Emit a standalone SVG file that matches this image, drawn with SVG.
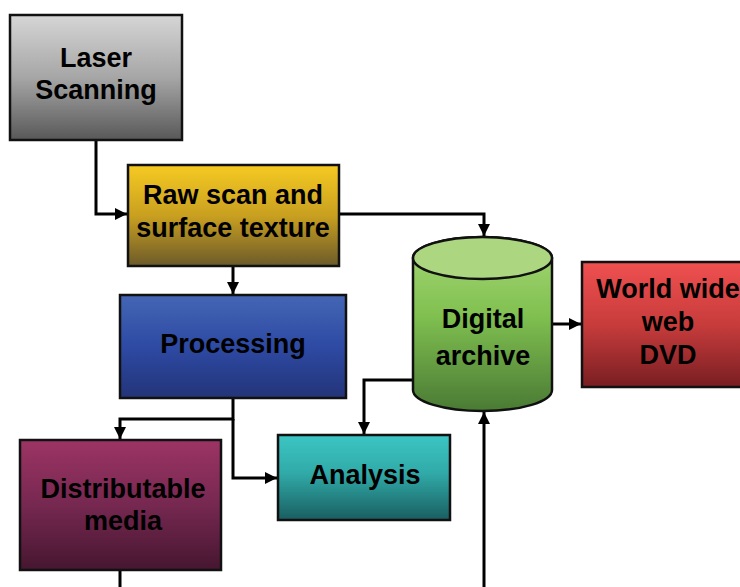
<svg xmlns="http://www.w3.org/2000/svg" width="740" height="587" viewBox="0 0 740 587">
  <defs>
    <linearGradient id="gGray" x1="0" y1="0" x2="0" y2="1">
      <stop offset="0" stop-color="#d6d6d6"/>
      <stop offset="0.5" stop-color="#a6a6a6"/>
      <stop offset="1" stop-color="#585858"/>
    </linearGradient>
    <linearGradient id="gGold" x1="0" y1="0" x2="0" y2="1">
      <stop offset="0" stop-color="#f6ca22"/>
      <stop offset="0.5" stop-color="#c9a020"/>
      <stop offset="1" stop-color="#6c5a2a"/>
    </linearGradient>
    <linearGradient id="gBlue" x1="0" y1="0" x2="0" y2="1">
      <stop offset="0" stop-color="#4466b4"/>
      <stop offset="0.5" stop-color="#2e4aa4"/>
      <stop offset="1" stop-color="#233478"/>
    </linearGradient>
    <linearGradient id="gGreen" x1="0" y1="0" x2="0" y2="1">
      <stop offset="0" stop-color="#a8d878"/>
      <stop offset="0.45" stop-color="#80c050"/>
      <stop offset="1" stop-color="#4a7a34"/>
    </linearGradient>
    <linearGradient id="gRed" x1="0" y1="0" x2="0" y2="1">
      <stop offset="0" stop-color="#f05050"/>
      <stop offset="0.5" stop-color="#c83c3c"/>
      <stop offset="1" stop-color="#781e22"/>
    </linearGradient>
    <linearGradient id="gPurple" x1="0" y1="0" x2="0" y2="1">
      <stop offset="0" stop-color="#9c3464"/>
      <stop offset="0.5" stop-color="#762850"/>
      <stop offset="1" stop-color="#461630"/>
    </linearGradient>
    <linearGradient id="gTeal" x1="0" y1="0" x2="0" y2="1">
      <stop offset="0" stop-color="#3cc6c4"/>
      <stop offset="0.45" stop-color="#30aaa8"/>
      <stop offset="1" stop-color="#1a5e60"/>
    </linearGradient>
    <marker id="arrow" viewBox="0 0 10 10" refX="10" refY="5" markerWidth="12" markerHeight="12" markerUnits="userSpaceOnUse" orient="auto">
      <path d="M0,0 L10,5 L0,10 Z" fill="#000"/>
    </marker>
  </defs>
  <style>
    .box { stroke: #111; stroke-width: 2.5; }
    .lbl { font-family: "Liberation Sans", Arial, sans-serif; font-weight: bold; font-size: 27px; fill: #000; text-anchor: middle; }
    .conn { fill: none; stroke: #000; stroke-width: 3; }
  </style>

  <rect width="740" height="587" fill="#fff"/>

  <!-- connectors -->
  <g id="connectors">
    <polyline class="conn" points="96,140 96,214 127,214" marker-end="url(#arrow)"/>
    <polyline class="conn" points="339,214 484,214 484,236" marker-end="url(#arrow)"/>
    <polyline class="conn" points="233,266 233,294" marker-end="url(#arrow)"/>
    <polyline class="conn" points="552,324 581,324" marker-end="url(#arrow)"/>
    <polyline class="conn" points="233,398 233,419 120,419 120,439" marker-end="url(#arrow)"/>
    <polyline class="conn" points="233,419 233,478 277,478" marker-end="url(#arrow)"/>
    <polyline class="conn" points="413,380 364,380 364,434" marker-end="url(#arrow)"/>
    <polyline class="conn" points="120,570 120,587"/>
    <polyline class="conn" points="484,587 484,412" marker-end="url(#arrow)"/>
  </g>

  <g id="laser-scanning">
    <rect class="box" x="10" y="15" width="172" height="125" fill="url(#gGray)"/>
    <text class="lbl" x="96" y="67">Laser</text>
    <text class="lbl" x="96" y="99">Scanning</text>
  </g>

  <g id="raw-scan">
    <rect class="box" x="128" y="165" width="211" height="101" fill="url(#gGold)"/>
    <text class="lbl" x="233" y="204">Raw scan and</text>
    <text class="lbl" x="233" y="237">surface texture</text>
  </g>

  <g id="processing">
    <rect class="box" x="120" y="295" width="226" height="103" fill="url(#gBlue)"/>
    <text class="lbl" x="233" y="353">Processing</text>
  </g>

  <g id="digital-archive">
    <path class="box" d="M413,258 L413,390 A69.5,21 0 0 0 552,390 L552,258 A69.5,21 0 0 0 413,258 Z" fill="url(#gGreen)"/>
    <ellipse class="box" cx="482.5" cy="258" rx="69.5" ry="21" fill="#acd680" stroke-width="1.5"/>
    <text class="lbl" x="483" y="328">Digital</text>
    <text class="lbl" x="483" y="365">archive</text>
  </g>

  <g id="world-wide-web">
    <rect class="box" x="582" y="262" width="172" height="125" fill="url(#gRed)"/>
    <text class="lbl" x="668" y="298">World wide</text>
    <text class="lbl" x="668" y="331">web</text>
    <text class="lbl" x="668" y="364">DVD</text>
  </g>

  <g id="distributable-media">
    <rect class="box" x="20" y="440" width="201" height="130" fill="url(#gPurple)"/>
    <text class="lbl" x="123" y="498">Distributable</text>
    <text class="lbl" x="123" y="530">media</text>
  </g>

  <g id="analysis">
    <rect class="box" x="278" y="435" width="172" height="85" fill="url(#gTeal)"/>
    <text class="lbl" x="365" y="484">Analysis</text>
  </g>
</svg>
